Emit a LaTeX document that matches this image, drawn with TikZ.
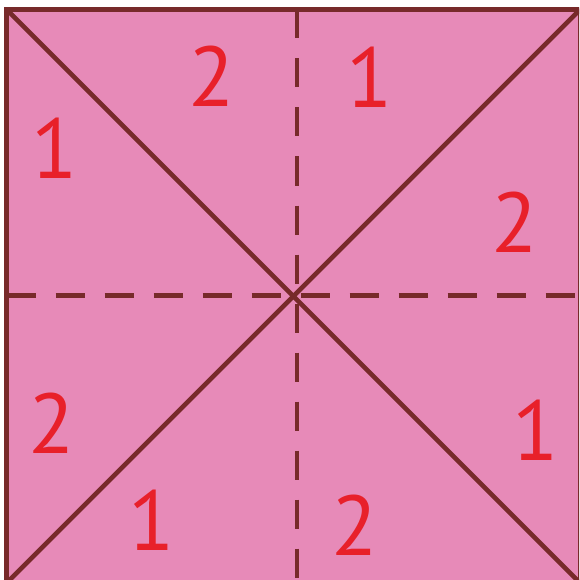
\documentclass[tikz,border=0pt]{standalone}
\usepackage{fontspec}
\setsansfont{PT Sans}
\usetikzlibrary{positioning}
\definecolor{SheetFill}{HTML}{E78AB8}
\definecolor{FoldInk}{HTML}{772A2A}
\definecolor{NumInk}{HTML}{E8202A}

\begin{document}
\begin{tikzpicture}[
  x=1pt, y=-1pt,
  edge/.style={
    FoldInk,
    line width=4.6pt,
  },
  fold/.style={
    FoldInk,
    line width=4.8pt,
    dash pattern=on 29pt off 20pt,
  },
  num/.style={
    text=NumInk,
    font=\sffamily\fontsize{85}{85}\selectfont,
    inner sep=0pt,
  },
]
  \useasboundingbox (0,0) rectangle (579,580);
  \clip (0,0) rectangle (579,580);

  \coordinate (tl) at (6.5,9.5);
  \coordinate (tr) at (580,9.5);
  \coordinate (br) at (580,583);
  \coordinate (bl) at (6.5,583);
  \coordinate (mt) at (297,9.5);
  \coordinate (mb) at (297,583);
  \coordinate (ml) at (6.5,295.5);
  \coordinate (mr) at (580,295.5);

  \fill[SheetFill] (tl) rectangle (br);

  % folds
  \draw[fold] (mt) -- (mb);
  \draw[fold] (ml) -- (mr);
  \draw[edge] (tl) -- (br);
  \draw[edge] (tr) -- (bl);
  \draw[edge] (tl) rectangle (br);

  % numbers
  \node[num] (n1) at (212,76) {2};
  \node[num] (n2) at (370,77) {1};
  \node[num] (n3) at (55,148) {1};
  \node[num] (n4) at (515,222) {2};
  \node[num] (n5) at (52,423) {2};
  \node[num] (n6) at (536,430) {1};
  \node[num] (n7) at (152,520) {1};
  \node[num] (n8) at (355,525) {2};
\end{tikzpicture}
\end{document}
